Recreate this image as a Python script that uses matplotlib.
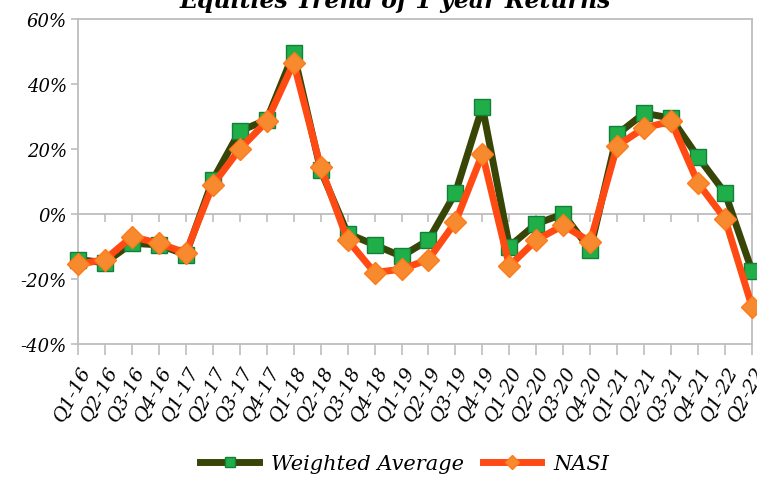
import matplotlib.pyplot as plt
from matplotlib.lines import Line2D
from matplotlib.ticker import FuncFormatter

quarters = ["Q1-16", "Q2-16", "Q3-16", "Q4-16", "Q1-17", "Q2-17", "Q3-17", "Q4-17",
            "Q1-18", "Q2-18", "Q3-18", "Q4-18", "Q1-19", "Q2-19", "Q3-19", "Q4-19",
            "Q1-20", "Q2-20", "Q3-20", "Q4-20", "Q1-21", "Q2-21", "Q3-21", "Q4-21",
            "Q1-22", "Q2-22"]

# 1 year returns, in percent
weighted_avg = [-14, -15, -9, -9.5, -12.5, 10.5, 25.5, 29, 49.5, 13.5, -6, -9.5,
                -13, -8, 6.5, 33, -10, -3, 0, -11, 24.5, 31, 29.5, 17.5, 6.5, -17.5]
nasi = [-15.5, -14, -7, -9, -12, 9, 20, 28.5, 46.5, 14.5, -8, -18,
        -17, -14, -2.5, 18.5, -16, -8, -3.5, -8.5, 21, 26.5, 28.5, 9.5, -1.5, -28.5]

GREEN_LINE = "#374506"
GREEN_MARK = "#1fae48"
ORANGE_LINE = "#ff4a14"
ORANGE_MARK = "#f7892e"
GRID = "#bdbdbd"

serif = ["DejaVu Serif"]

fig = plt.figure(figsize=(7.57, 4.81), dpi=100)
ax = fig.add_axes([78 / 757, 1 - 345 / 481, 674 / 757, 325 / 481])

x = list(range(len(quarters)))
ax.plot(x, weighted_avg, color=GREEN_LINE, lw=5, marker="s", ms=11,
        mfc=GREEN_MARK, mec="#13803a", mew=1, clip_on=False, zorder=3)
ax.plot(x, nasi, color=ORANGE_LINE, lw=5, marker="D", ms=11,
        mfc=ORANGE_MARK, mec="#ff7a1a", mew=1, clip_on=False, zorder=4)

ax.set_xlim(0, len(quarters) - 1)
ax.set_ylim(-40, 60)
ax.set_yticks(range(-40, 61, 20))
ax.yaxis.set_major_formatter(FuncFormatter(lambda v, p: f"{v:.0f}%"))
ax.axhline(0, color=GRID, lw=1.3, zorder=1)

for s in ax.spines.values():
    s.set_color(GRID)
    s.set_linewidth(1.3)

ax.set_xticks(x)
ax.set_xticklabels(quarters, rotation=62, ha="right", rotation_mode="anchor",
                   family=serif, style="italic", fontsize=14)
ax.tick_params(axis="x", length=8, width=1.2, color=GRID, pad=5)
ax.tick_params(axis="y", length=5, width=1.2, color=GRID, labelsize=13, pad=3)
for lab in ax.get_yticklabels():
    lab.set_family(serif)
    lab.set_style("italic")

# category ticks along the zero line
zero_axis = ax.secondary_xaxis(0.4)
zero_axis.set_xticks(x)
zero_axis.tick_params(axis="x", length=6, width=1.2, color=GRID, labelbottom=False)
zero_axis.spines["bottom"].set_visible(False)

fig.text(0.522, 1 - 8 / 481, "Equities Trend of 1 year Returns", ha="center",
         va="baseline", family=serif, style="italic", weight="bold", fontsize=17)

handles = [
    Line2D([], [], color=GREEN_LINE, lw=5, marker="s", ms=7, mfc=GREEN_MARK, mec="#13803a"),
    Line2D([], [], color=ORANGE_LINE, lw=5, marker="D", ms=7, mfc=ORANGE_MARK, mec="#ff7a1a"),
]
fig.legend(handles, ["Weighted Average", "NASI"], loc="center", ncol=2,
           bbox_to_anchor=(0.535, 1 - 465 / 481), frameon=False, handlelength=2.8,
           columnspacing=0.9, handletextpad=0.6,
           prop={"family": serif, "style": "italic", "size": 15})

fig.savefig("out.png", dpi=100)
